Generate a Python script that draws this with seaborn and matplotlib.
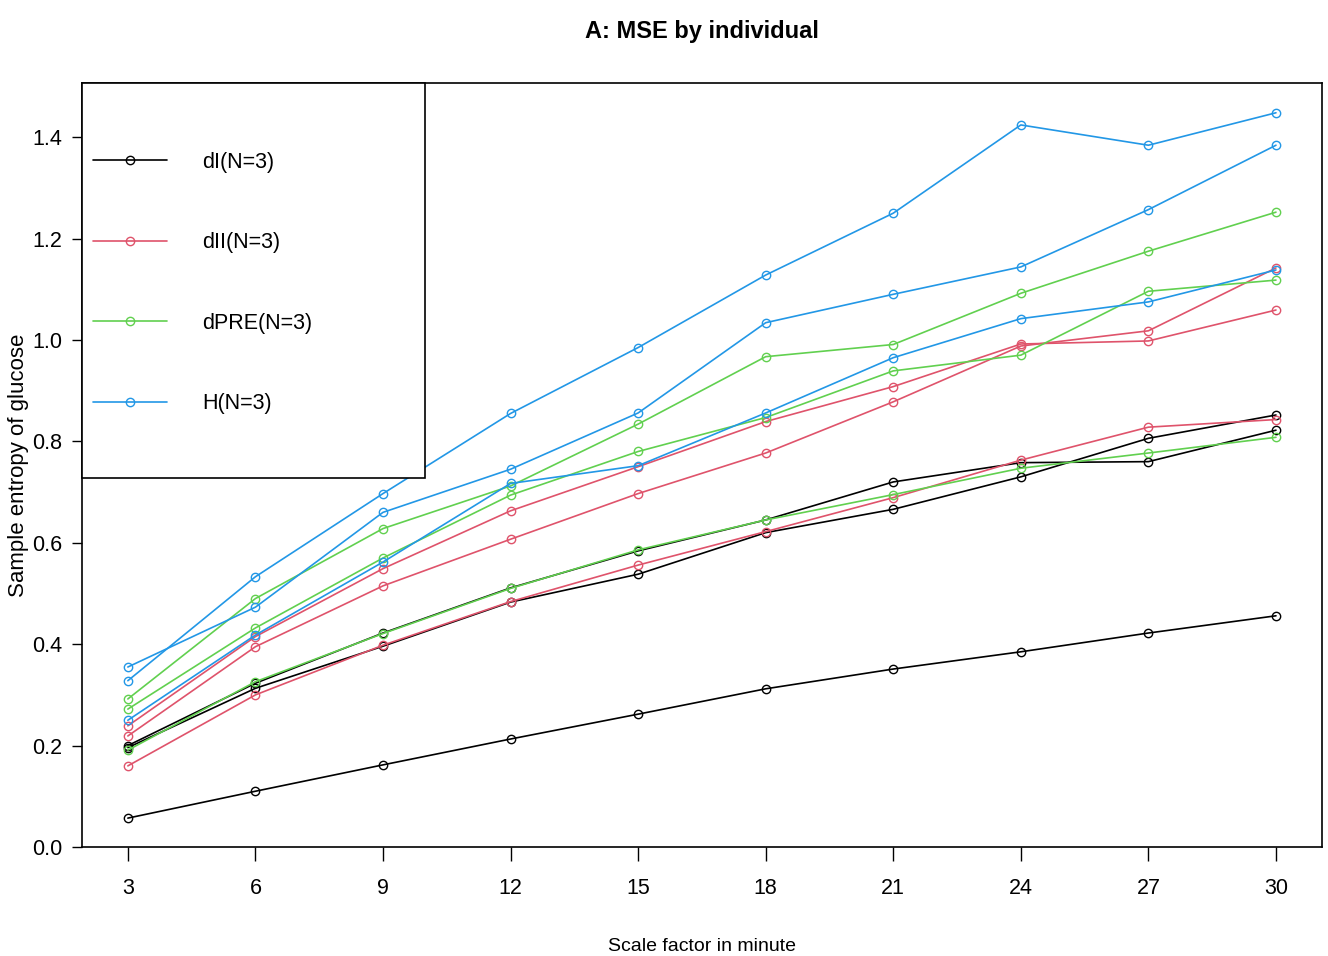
import matplotlib
matplotlib.use("Agg")

import pandas as pd
import seaborn as sns
from matplotlib import pyplot as plt
from matplotlib.lines import Line2D
from matplotlib.patches import Rectangle

# scale factors (minutes) on the x axis
scale = [3, 6, 9, 12, 15, 18, 21, 24, 27, 30]

# sample entropy per individual
dI_1 = [0.057, 0.110, 0.162, 0.213, 0.262, 0.312, 0.351, 0.385, 0.422, 0.456]
dI_2 = [0.200, 0.323, 0.422, 0.511, 0.584, 0.645, 0.720, 0.758, 0.760, 0.822]
dI_3 = [0.196, 0.313, 0.396, 0.483, 0.538, 0.620, 0.666, 0.730, 0.806, 0.852]

dII_1 = [0.219, 0.395, 0.515, 0.607, 0.697, 0.777, 0.878, 0.988, 1.018, 1.142]
dII_2 = [0.239, 0.415, 0.549, 0.663, 0.750, 0.839, 0.908, 0.992, 0.998, 1.059]
dII_3 = [0.160, 0.300, 0.398, 0.484, 0.556, 0.622, 0.689, 0.763, 0.828, 0.843]

dPRE_1 = [0.272, 0.432, 0.570, 0.694, 0.780, 0.847, 0.939, 0.970, 1.096, 1.118]
dPRE_2 = [0.292, 0.490, 0.628, 0.712, 0.834, 0.967, 0.991, 1.092, 1.175, 1.252]
dPRE_3 = [0.191, 0.326, 0.421, 0.510, 0.586, 0.645, 0.695, 0.747, 0.777, 0.808]

H_1 = [0.328, 0.533, 0.697, 0.855, 0.985, 1.128, 1.250, 1.424, 1.384, 1.448]
H_2 = [0.355, 0.473, 0.660, 0.745, 0.856, 1.034, 1.090, 1.144, 1.257, 1.384]
H_3 = [0.250, 0.418, 0.562, 0.717, 0.752, 0.856, 0.965, 1.042, 1.075, 1.138]

groups = ["dI(N=3)", "dII(N=3)", "dPRE(N=3)", "H(N=3)"]
colors = ["#000000", "#DF536B", "#61D04F", "#2297E6"]
yticks = [0.0, 0.2, 0.4, 0.6, 0.8, 1.0, 1.2, 1.4]
ytick_labels = ["0.0", "0.2", "0.4", "0.6", "0.8", "1.0", "1.2", "1.4"]

series = [
    (groups[0], [dI_1, dI_2, dI_3]),
    (groups[1], [dII_1, dII_2, dII_3]),
    (groups[2], [dPRE_1, dPRE_2, dPRE_3]),
    (groups[3], [H_1, H_2, H_3]),
]
rows = []
for grp, subjects in series:
    for i, vals in enumerate(subjects):
        for s, v in zip(scale, vals):
            rows.append((s, v, grp, f"{grp}_{i}"))
df = pd.DataFrame(rows, columns=["scale", "entropy", "group", "unit"])

sns.set_theme(style="ticks")
plt.rcParams["font.family"] = ["Liberation Sans", "DejaVu Sans"]
plt.rcParams.update({
    "axes.edgecolor": "black",
    "xtick.color": "black",
    "ytick.color": "black",
    "text.color": "black",
    "axes.labelcolor": "black",
})

fig = plt.figure(figsize=(13.28, 9.56), dpi=100)
ax = fig.add_axes([0.0617, 0.114, 0.9337, 0.7988])

sns.lineplot(data=df, x="scale", y="entropy", hue="group", hue_order=groups,
             units="unit", estimator=None, palette=colors, marker="o",
             lw=1.2, ms=6, legend=False, ax=ax)
for line in ax.lines:
    c = line.get_color()
    line.set_markerfacecolor("none")
    line.set_markeredgecolor(c)
    line.set_markeredgewidth(1.0)

ax.set_xlim(1.92, 31.08)
ax.set_ylim(0, 1.506)
ax.set_xticks(scale)
ax.set_yticks(yticks, labels=ytick_labels)
ax.tick_params(axis="x", length=10, width=1.0, pad=12, labelsize=15.5)
ax.tick_params(axis="y", length=7, width=1.0, pad=7, labelsize=15.5)
for sp in ax.spines.values():
    sp.set_linewidth(1.2)
    sp.set_color("black")

ax.set_title("A: MSE by individual", fontsize=17, fontweight="bold", pad=33)
ax.set_xlabel("Scale factor in minute", fontsize=14)
ax.xaxis.set_label_coords(0.5, -0.1185)
ax.set_ylabel("Sample entropy of glucose", fontsize=16)
ax.yaxis.set_label_coords(-0.0425, 0.5)

# legend box like R's legend(), opaque and drawn over the lines
ax.add_patch(Rectangle((0, 0.483), 0.2766, 0.517, transform=ax.transAxes,
                       facecolor="white", edgecolor="black", lw=1.2,
                       zorder=4, clip_on=False))
handles = [Line2D([], [], color=c, lw=1.2, marker="o", ms=6, mfc="none",
                  mec=c, mew=1.0) for c in colors]
ax.legend(handles, groups, loc="center left", bbox_to_anchor=(0.0089, 0.7384),
          frameon=False, borderpad=0, borderaxespad=0, handlelength=3.44,
          handletextpad=1.63, labelspacing=2.76, fontsize=15.5)

plt.savefig("out.png", dpi=100)
